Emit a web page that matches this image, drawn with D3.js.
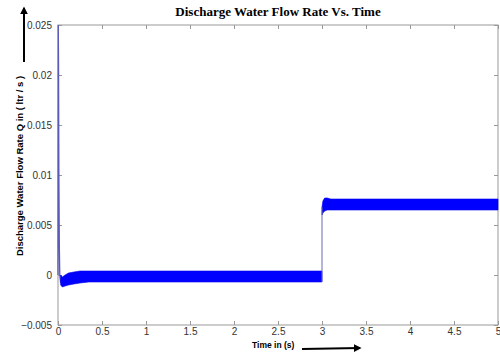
<!DOCTYPE html>
<html>
<head>
<meta charset="utf-8">
<script src="https://cdn.jsdelivr.net/npm/d3@7"></script>
<style>
  body { margin: 0; background: #fff; }
  svg { display: block; }
</style>
</head>
<body>
<div id="chart"></div>
<script>
// tick labels
const xTicks = [0, 0.5, 1, 1.5, 2, 2.5, 3, 3.5, 4, 4.5, 5];
const yTicks = [-0.005, 0, 0.005, 0.01, 0.015, 0.02, 0.025];

// start-up spike (thin line)
const spikeT = [0, 0.003, 0.006, 0.01, 0.015, 0.02, 0.03];
const spikeQ = [0, 0.025, 0.021, 0.01, 0.003, 0.0, -0.0008];

// oscillation envelope, first period
const band1T = [0.03, 0.05, 0.08, 0.12, 0.18, 0.25, 0.35, 0.5, 1, 2, 3.0];
const band1Hi = [0.0, -0.0002, 0.0, 0.0002, 0.0003, 0.0004, 0.0004, 0.0004, 0.0004, 0.0004, 0.0004];
const band1Lo = [-0.001, -0.0012, -0.0011, -0.001, -0.0009, -0.0008, -0.0007, -0.0007, -0.0007, -0.0007, -0.0007];

// step at t = 3 s
const stepT = [3.0, 3.0];
const stepQ = [-0.0007, 0.0068];

// oscillation envelope after the step
const band2T = [3.0, 3.01, 3.03, 3.06, 3.1, 3.2, 3.5, 4, 4.5, 5];
const band2Hi = [0.0068, 0.0074, 0.0077, 0.0077, 0.0076, 0.0076, 0.0076, 0.0076, 0.0076, 0.0076];
const band2Lo = [0.006, 0.0062, 0.0064, 0.0065, 0.0065, 0.0065, 0.0065, 0.0065, 0.0065, 0.0065];

const W = 500, H = 354;
const margin = { top: 25, right: 2, bottom: 29, left: 58 };
const width = W - margin.left - margin.right;
const height = H - margin.top - margin.bottom;

const svg = d3.select('#chart').append('svg')
  .attr('width', W)
  .attr('height', H);

const defs = svg.append('defs');
defs.append('marker')
  .attr('id', 'arrow')
  .attr('viewBox', '0 0 10 10')
  .attr('refX', 8).attr('refY', 5)
  .attr('markerWidth', 4).attr('markerHeight', 4)
  .attr('orient', 'auto')
  .append('path')
  .attr('d', 'M0,0 L10,5 L0,10 z')
  .attr('fill', '#000');

const g = svg.append('g')
  .attr('transform', `translate(${margin.left},${margin.top})`);

const x = d3.scaleLinear().domain([0, 5]).range([0, width]);
const y = d3.scaleLinear().domain([-0.005, 0.025]).range([height, 0]);

const axisColor = '#999';
const tickFmt = d => d3.format('')(+d.toFixed(3));

// plot box
g.append('rect')
  .attr('width', width).attr('height', height)
  .attr('fill', 'none').attr('stroke', axisColor).attr('stroke-width', 1);

function styleAxis(sel, withText) {
  sel.select('.domain').remove();
  sel.selectAll('.tick line').attr('stroke', axisColor);
  if (withText) {
    sel.selectAll('.tick text')
      .style('font-family', 'Liberation Sans, Arial, sans-serif')
      .style('font-size', '10px')
      .attr('fill', '#333');
  } else {
    sel.selectAll('.tick text').remove();
  }
}

g.append('g')
  .attr('transform', `translate(0,${height})`)
  .call(d3.axisBottom(x).tickValues(xTicks).tickSize(-4).tickPadding(3).tickFormat(tickFmt))
  .call(s => styleAxis(s, true));

g.append('g')
  .call(d3.axisTop(x).tickValues(xTicks).tickSize(-4))
  .call(s => styleAxis(s, false));

g.append('g')
  .call(d3.axisLeft(y).tickValues(yTicks).tickSize(-4).tickPadding(6).tickFormat(tickFmt))
  .call(s => styleAxis(s, true));

g.append('g')
  .attr('transform', `translate(${width},0)`)
  .call(d3.axisRight(y).tickValues(yTicks).tickSize(-4))
  .call(s => styleAxis(s, false));

// data
const area = d3.area()
  .x(d => x(d.t))
  .y0(d => y(d.lo))
  .y1(d => y(d.hi));

const line = d3.line()
  .x(d => x(d.t))
  .y(d => y(d.q));

const band1 = band1T.map((t, i) => ({ t, hi: band1Hi[i], lo: band1Lo[i] }));
const band2 = band2T.map((t, i) => ({ t, hi: band2Hi[i], lo: band2Lo[i] }));

g.append('path')
  .datum(spikeT.map((t, i) => ({ t, q: spikeQ[i] })))
  .attr('fill', 'none')
  .attr('stroke', '#5a5ab8')
  .attr('stroke-width', 1.3)
  .attr('d', line);

[band1, band2].forEach(b => {
  g.append('path')
    .datum(b)
    .attr('fill', '#0000ff')
    .attr('stroke', '#0000ee')
    .attr('stroke-width', 0.6)
    .attr('d', area);
});

g.append('path')
  .datum(stepT.map((t, i) => ({ t, q: stepQ[i] })))
  .attr('fill', 'none')
  .attr('stroke', '#6a6ab0')
  .attr('stroke-width', 1)
  .attr('d', line);

// title
svg.append('text')
  .attr('x', 278).attr('y', 16)
  .attr('text-anchor', 'middle')
  .style('font-family', 'Liberation Serif, Times New Roman, serif')
  .style('font-weight', 'bold')
  .style('font-size', '13px')
  .text('Discharge Water Flow Rate Vs. Time');

// y label
svg.append('text')
  .attr('transform', 'translate(23,166) rotate(-90)')
  .attr('text-anchor', 'middle')
  .style('font-family', 'Liberation Sans, Arial, sans-serif')
  .style('font-weight', 'bold')
  .style('font-size', '9.5px')
  .text('Discharge Water Flow Rate Q in ( ltr / s )');

// x label
svg.append('text')
  .attr('x', 252).attr('y', 348)
  .style('font-family', 'Liberation Sans, Arial, sans-serif')
  .style('font-weight', 'bold')
  .style('font-size', '8.5px')
  .text('Time in (s)');

// direction arrows
svg.append('line')
  .attr('x1', 24).attr('y1', 62).attr('x2', 24).attr('y2', 8)
  .attr('stroke', '#000').attr('stroke-width', 2)
  .attr('marker-end', 'url(#arrow)');

svg.append('line')
  .attr('x1', 302).attr('y1', 349).attr('x2', 360).attr('y2', 348)
  .attr('stroke', '#000').attr('stroke-width', 2)
  .attr('marker-end', 'url(#arrow)');
</script>
</body>
</html>
